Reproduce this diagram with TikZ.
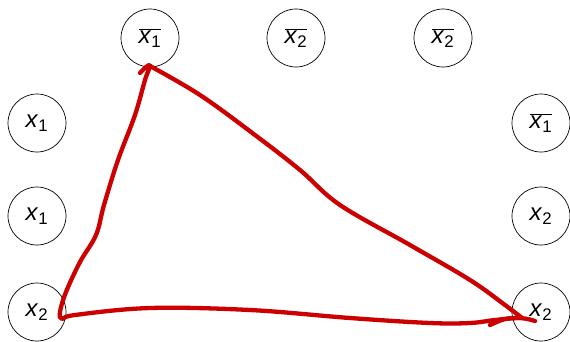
\documentclass[tikz,border=0pt]{standalone}
\usepackage{fontspec}
\setmainfont{Liberation Sans}
\newcommand{\vx}[1]{\textit{x}\textsubscript{#1}}
\newcommand{\vnx}[1]{$\overline{\hbox{\textit{x}\textsubscript{#1}}}$}
\begin{document}
\begin{tikzpicture}[x=1pt,y=-1pt,
  lit/.style={draw, circle, line width=0.7pt, minimum size=58pt, inner sep=0pt, font=\fontsize{24}{28}\selectfont},
  stroke/.style={draw=red!80!black, line width=4.3pt, line cap=round, line join=round}]
\useasboundingbox (0,0) rectangle (570,341);
\node[lit] (t1) at (150,38) {\vnx{1}};
\node[lit] (t2) at (296,38) {\vnx{2}};
\node[lit] (t3) at (443,38) {\vnx{2}};
\node[lit] (l1) at (37,123) {\vx{1}};
\node[lit] (l2) at (37,216) {\vx{1}};
\node[lit] (l3) at (37,312) {\vx{2}};
\node[lit] (r1) at (541,123) {\vnx{1}};
\node[lit] (r2) at (541,216) {\vx{2}};
\node[lit] (r3) at (541,312) {\vx{2}};
\draw[stroke] plot[smooth, tension=0.6] coordinates {
  (140,73) (146,67) (150,66) (145,80) (135,115) (118,160) (104,205) (96,235) (80,262) (66,292) (60,312) (62,319)
  (75,315) (150,308) (250,310) (350,318) (430,323) (470,323) (495,320) (520,318) (535,321)};
\draw[stroke] plot[smooth, tension=0.6] coordinates {
  (150,66) (200,95) (255,135) (300,170) (340,205) (410,245) (470,280) (505,305) (522,318)};
\draw[stroke] plot[smooth, tension=0.6] coordinates {(490,325) (505,319) (520,318)};
\end{tikzpicture}
\end{document}
